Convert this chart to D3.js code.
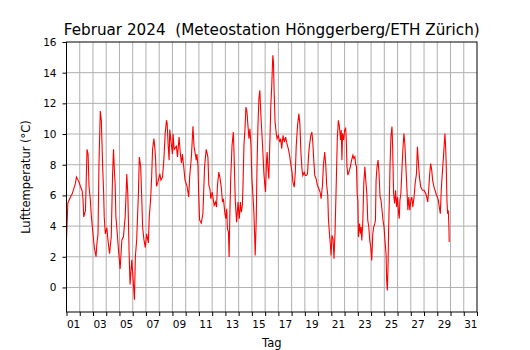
<!DOCTYPE html>
<html>
<head>
<meta charset="utf-8">
<script src="https://cdn.jsdelivr.net/npm/d3@7"></script>
<style>
  body { margin: 0; background: #fff; }
  text { font-family: "DejaVu Sans", sans-serif; fill: #000; }
</style>
</head>
<body>
<script>
// Lufttemperatur Februar 2024, Hönggerberg (Tag ab 1. Feb 00:00)
var titel = "Februar 2024  (Meteostation Hönggerberg/ETH Zürich)";
var tagLabels = ["01","03","05","07","09","11","13","15","17","19","21","23","25","27","29","31"];
var yTicks = [0, 2, 4, 6, 8, 10, 12, 14, 16];

var messwerte = [
  [0.0,3.1],[0.1,5.5],[0.3,5.9],[0.43,6.1],[0.68,6.8],[0.75,7.2],[0.93,6.9],[1.05,6.6],[1.18,6.3],[1.25,5.7],
  [1.3,4.6],[1.43,5.0],[1.55,9.0],[1.63,8.7],[1.7,6.6],[1.8,5.7],[1.88,4.6],[2.0,3.5],[2.1,2.6],[2.23,2.0],
  [2.3,2.9],[2.38,3.5],[2.45,7.9],[2.55,11.5],[2.63,10.9],[2.73,7.9],[2.8,6.3],[2.85,4.6],[2.93,3.5],[3.05,3.9],
  [3.13,3.1],[3.25,2.2],[3.38,3.3],[3.48,7.4],[3.55,9.0],[3.63,7.4],[3.68,6.6],[3.73,4.6],[3.8,3.9],[3.93,2.4],
  [4.05,1.2],[4.18,3.1],[4.3,3.3],[4.43,4.6],[4.5,6.1],[4.55,7.4],[4.63,6.1],[4.68,4.2],[4.73,2.2],[4.8,0.2],
  [4.93,1.8],[5.0,0.9],[5.13,-0.8],[5.2,2.0],[5.3,3.1],[5.43,6.1],[5.5,8.5],[5.6,7.9],[5.68,5.9],[5.75,3.9],
  [5.85,3.1],[5.95,2.6],[6.05,3.5],[6.18,2.9],[6.25,4.6],[6.35,5.7],[6.43,7.2],[6.5,9.0],[6.6,9.7],[6.68,9.0],
  [6.73,8.3],[6.8,6.6],[6.88,6.8],[7.05,7.4],[7.13,7.0],[7.25,7.2],[7.35,8.3],[7.45,10.0],[7.55,10.9],[7.6,10.7],
  [7.68,9.2],[7.75,8.3],[7.8,10.3],[7.88,9.6],[8.0,8.7],[8.05,10.0],[8.13,9.0],[8.3,9.2],[8.38,8.5],[8.5,9.8],
  [8.6,8.7],[8.68,8.1],[8.75,8.7],[8.85,7.9],[8.95,7.0],[9.1,6.6],[9.23,5.9],[9.3,7.2],[9.43,8.5],[9.55,10.5],
  [9.63,9.2],[9.8,8.3],[9.85,8.7],[9.93,7.9],[9.98,6.1],[10.05,4.4],[10.18,4.2],[10.3,4.8],[10.43,7.9],[10.55,9.0],
  [10.68,8.5],[10.75,6.65],[10.83,6.43],[10.9,5.78],[11.0,6.22],[11.15,5.35],[11.25,5.57],[11.33,5.24],[11.4,6.65],[11.5,7.52],
  [11.6,7.09],[11.7,6.43],[11.78,5.57],[11.85,5.78],[11.95,4.91],[12.03,4.48],[12.1,5.13],[12.15,3.83],[12.23,3.61],[12.28,1.98],
  [12.33,4.48],[12.4,7.09],[12.5,9.26],[12.6,10.13],[12.65,8.83],[12.7,7.09],[12.75,5.57],[12.85,4.26],[12.95,5.57],[13.05,4.48],
  [13.13,5.57],[13.2,4.91],[13.28,5.35],[13.33,6.65],[13.4,9.26],[13.48,10.35],[13.55,11.76],[13.63,11.43],[13.7,10.57],[13.78,9.7],
  [13.85,10.35],[13.93,9.26],[14.0,7.09],[14.08,6.0],[14.15,4.91],[14.2,3.61],[14.25,2.09],[14.33,4.48],[14.38,7.52],[14.45,10.35],
  [14.53,12.3],[14.6,12.85],[14.68,11.22],[14.75,10.13],[14.83,8.83],[14.9,7.52],[14.98,6.65],[15.03,6.22],[15.1,8.17],[15.15,8.83],
  [15.2,7.96],[15.28,7.09],[15.35,9.26],[15.43,11.87],[15.5,13.17],[15.58,15.13],[15.63,14.7],[15.68,12.74],[15.75,10.78],[15.83,10.13],
  [15.9,9.7],[16.0,9.91],[16.1,9.48],[16.18,9.7],[16.25,9.04],[16.35,9.91],[16.45,9.48],[16.55,9.8],[16.65,9.37],[16.75,9.04],
  [16.85,8.61],[16.95,7.96],[17.03,7.52],[17.1,6.87],[17.2,6.54],[17.28,7.52],[17.35,9.26],[17.45,10.57],[17.55,11.33],[17.63,10.57],
  [17.7,8.83],[17.78,7.74],[17.85,7.3],[17.95,7.52],[18.03,7.3],[18.1,7.3],[18.2,7.41],[18.28,8.61],[18.35,9.26],[18.45,9.91],
  [18.53,10.13],[18.6,9.48],[18.68,8.17],[18.75,7.3],[18.85,7.09],[18.95,6.65],[19.05,6.43],[19.15,6.22],[19.23,5.78],[19.33,6.65],
  [19.4,7.96],[19.5,8.83],[19.58,7.96],[19.65,6.65],[19.73,6.0],[19.78,4.48],[19.85,3.61],[19.93,2.74],[19.98,2.09],[20.05,3.39],
  [20.13,3.17],[20.2,1.87],[20.28,3.61],[20.38,7.09],[20.45,9.7],[20.53,10.89],[20.6,10.57],[20.7,9.61],[20.75,10.26],[20.8,8.3],
  [20.85,10.04],[20.93,9.61],[21.0,10.26],[21.08,10.37],[21.13,9.61],[21.18,7.86],[21.25,7.32],[21.33,7.54],[21.43,7.86],[21.53,8.3],
  [21.63,8.63],[21.7,8.41],[21.78,8.52],[21.83,8.08],[21.9,7.86],[21.95,6.12],[22.0,5.69],[22.05,3.29],[22.13,4.16],[22.2,3.51],
  [22.25,3.94],[22.3,3.07],[22.38,4.38],[22.45,6.78],[22.53,7.86],[22.6,6.99],[22.68,6.12],[22.75,4.38],[22.83,3.94],[22.9,3.07],
  [22.98,2.64],[23.05,1.76],[23.13,3.51],[23.2,3.94],[23.28,4.16],[23.33,4.38],[23.38,6.99],[23.45,7.86],[23.53,8.3],[23.6,7.43],
  [23.68,5.9],[23.75,5.69],[23.83,5.03],[23.9,4.38],[23.98,3.94],[24.05,3.07],[24.13,2.2],[24.18,0.46],[24.23,-0.2],[24.28,1.33],
  [24.33,3.94],[24.38,5.69],[24.43,7.86],[24.5,9.83],[24.58,10.48],[24.63,9.17],[24.7,6.12],[24.78,5.47],[24.85,6.34],[24.93,5.25],
  [25.0,5.9],[25.08,4.81],[25.13,4.49],[25.18,5.69],[25.25,6.12],[25.33,7.65],[25.4,8.95],[25.48,10.04],[25.55,9.39],[25.63,7.86],
  [25.7,6.56],[25.78,5.03],[25.85,5.9],[25.93,5.03],[26.0,5.69],[26.08,5.9],[26.15,5.25],[26.25,5.9],[26.33,6.78],[26.43,7.43],
  [26.5,9.17],[26.58,8.08],[26.65,7.21],[26.75,6.56],[26.88,6.34],[27.0,6.34],[27.13,6.12],[27.2,5.9],[27.28,5.58],[27.35,6.34],
  [27.43,7.43],[27.5,8.08],[27.58,7.65],[27.65,6.99],[27.75,6.56],[27.83,6.34],[27.9,6.12],[28.0,5.9],[28.08,5.69],[28.15,5.25],
  [28.23,4.81],[28.3,6.34],[28.38,7.43],[28.45,8.3],[28.53,9.39],[28.58,10.04],[28.63,9.17],[28.68,7.86],[28.73,5.69],[28.78,4.81],
  [28.83,5.03],[28.88,3.94],[28.9,2.96]
];

var margin = {left: 66.5, right: 53, top: 42, bottom: 38},
    width = 530 - margin.left - margin.right,
    height = 350 - margin.top - margin.bottom;

var svg = d3.select("body").append("svg")
    .attr("width", 530)
    .attr("height", 350);

var g = svg.append("g")
    .attr("transform", "translate(" + margin.left + "," + margin.top + ")");

var x = d3.scaleLinear().domain([0, 31]).range([0, width]);
var y = d3.scaleLinear().domain([-1.6, 16]).range([height, 0]);

// gitter
g.append("g").selectAll("line")
    .data(d3.range(1, 31))
    .enter().append("line")
    .attr("x1", function(d) { return x(d); })
    .attr("x2", function(d) { return x(d); })
    .attr("y1", 0).attr("y2", height)
    .attr("stroke", "#b0b0b0").attr("stroke-width", 1);

g.append("g").selectAll("line")
    .data(yTicks.slice(0, -1))
    .enter().append("line")
    .attr("x1", 0).attr("x2", width)
    .attr("y1", function(d) { return y(d); })
    .attr("y2", function(d) { return y(d); })
    .attr("stroke", "#b0b0b0").attr("stroke-width", 1);

// temperaturkurve
var line = d3.line()
    .x(function(d) { return x(d[0]); })
    .y(function(d) { return y(d[1]); });

g.append("path")
    .datum(messwerte)
    .attr("d", line)
    .attr("fill", "none")
    .attr("stroke", "#ff0000")
    .attr("stroke-width", 1.1);

// achsen
var xAxis = g.append("g")
    .attr("transform", "translate(0," + height + ")")
    .call(d3.axisBottom(x).tickValues(d3.range(0, 32)).tickSize(4).tickFormat(""));
xAxis.select(".domain").remove();

var xLab = g.append("g")
    .attr("transform", "translate(0," + height + ")")
    .call(d3.axisBottom(x)
        .tickValues(tagLabels.map(function(d) { return +d - 0.5; }))
        .tickSize(4).tickPadding(5)
        .tickFormat(function(d, i) { return tagLabels[i]; }));
xLab.select(".domain").remove();
xLab.selectAll("line").remove();

var yAxis = g.append("g")
    .call(d3.axisLeft(y).tickValues(yTicks).tickSize(4).tickPadding(6));
yAxis.select(".domain").remove();

g.selectAll(".tick text").attr("font-size", "10.5px").attr("font-family", "DejaVu Sans");
g.selectAll(".tick line").attr("stroke", "#000");

g.append("rect")
    .attr("width", width).attr("height", height)
    .attr("fill", "none").attr("stroke", "#000").attr("stroke-width", 1);

svg.append("text")
    .attr("x", margin.left + width / 2)
    .attr("y", 35)
    .attr("text-anchor", "middle")
    .attr("font-size", "15.2px")
    .style("white-space", "pre")
    .text(titel);

svg.append("text")
    .attr("x", margin.left + width / 2)
    .attr("y", 347)
    .attr("text-anchor", "middle")
    .attr("font-size", "11.5px")
    .text("Tag");

svg.append("text")
    .attr("transform", "translate(30," + (margin.top + height / 2) + ") rotate(-90)")
    .attr("text-anchor", "middle")
    .attr("font-size", "11.5px")
    .text("Lufttemperatur (°C)");
</script>
</body>
</html>
